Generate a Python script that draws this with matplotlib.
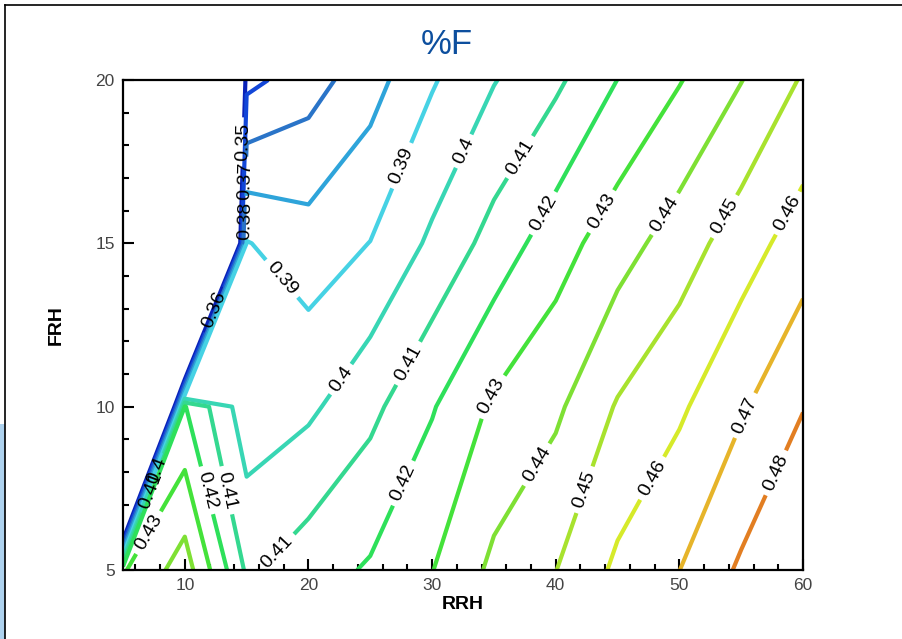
import numpy as np
import matplotlib
matplotlib.use("Agg")
import matplotlib.pyplot as plt
from matplotlib.lines import Line2D
from matplotlib.patches import Rectangle

# Grid of the response surface
rrh = [5, 10, 15, 20, 25, 30, 35, 40, 45, 50, 55, 60]
frh = [5, 10, 15, 20]

# %F values per FRH row (0 = infeasible corner, left blank)
pf_frh5 = [0.429, 0.445, 0.4084, 0.4155, 0.4212, 0.4297, 0.4422, 0.4498, 0.462, 0.4699, 0.4816, 0.488]
pf_frh10 = [0.0, 0.4205, 0.3937, 0.398, 0.4073, 0.4192, 0.4317, 0.4381, 0.4509, 0.4584, 0.4687, 0.4797]
pf_frh15 = [0.0, 0.0, 0.3905, 0.3845, 0.3902, 0.4019, 0.4138, 0.4256, 0.4356, 0.445, 0.4553, 0.465]
pf_frh20 = [0.0, 0.0, 0.357, 0.3656, 0.376, 0.389, 0.3995, 0.408, 0.4201, 0.4294, 0.4397, 0.451]

levels = [0.35, 0.36, 0.37, 0.38, 0.39, 0.40, 0.41, 0.42, 0.43, 0.44, 0.45, 0.46, 0.47, 0.48]
level_colors = ["#0a22b8", "#1246d8", "#2a74c8", "#2ea4da", "#46d2e4", "#38d6b4",
                "#34d890", "#2ee05a", "#44e23a", "#7ee034", "#a8e22e", "#d6ea2a",
                "#e6b42a", "#e27e22"]

# label anchor points (RRH, FRH) for each contour level
label_anchors = {
    0.35: [(14.75, 18.1)],
    0.36: [(12.4, 12.96)],
    0.37: [(14.85, 16.9)],
    0.38: [(14.9, 15.7)],
    0.39: [(27.4, 17.4), (18.1, 14.0)],
    0.40: [(32.4, 17.85), (22.4, 10.9), (7.3, 8.1)],
    0.41: [(37.5, 17.55), (28.2, 11.3), (17.9, 5.4), (13.5, 7.45), (6.9, 7.5)],
    0.42: [(39.1, 15.9), (27.4, 7.7), (11.9, 7.45)],
    0.43: [(43.6, 16.0), (34.4, 10.4), (6.8, 6.2)],
    0.44: [(48.4, 16.0), (37.7, 8.4)],
    0.45: [(53.3, 15.9), (42.0, 7.5)],
    0.46: [(58.9, 15.9), (47.6, 7.85)],
    0.47: [(54.9, 9.8)],
    0.48: [(57.3, 8.06)],
}

X, Y = np.meshgrid(rrh, frh)
Z = np.array([pf_frh5, pf_frh10, pf_frh15, pf_frh20])

sans = ["Liberation Sans", "DejaVu Sans"]

fig = plt.figure(figsize=(9.02, 6.39), dpi=100)
fig.patch.set_facecolor("white")
ax = fig.add_axes([123 / 902, 1 - 570 / 639, 680 / 902, 490 / 639])

# one contour set per level so every label can be pinned to its own line
for lv, col in zip(levels, level_colors):
    cs = ax.contour(X, Y, Z, levels=[lv], colors=[col], linewidths=3.0)
    pts = label_anchors.get(lv, [])
    if pts:
        txts = ax.clabel(cs, inline=True, inline_spacing=3, fontsize=14,
                         fmt=lambda v: f"{v:g}", manual=pts, colors="black")
        for t in txts:
            t.set_fontfamily(sans)

ax.set_xlim(5, 60)
ax.set_ylim(5, 20)
ax.set_xticks([10, 20, 30, 40, 50, 60])
ax.set_xticks(np.arange(6, 60, 2), minor=True)
ax.set_yticks([5, 10, 15, 20])
ax.set_yticks(np.arange(5, 21, 1), minor=True)
ax.tick_params(which="both", direction="in", top=False, right=False,
               width=1.5, colors="black", labelcolor="#444444", labelsize=12.5)
ax.tick_params(which="major", length=8, pad=6)
ax.tick_params(which="minor", length=4)
for lab in ax.get_xticklabels() + ax.get_yticklabels():
    lab.set_fontfamily(sans)
for sp in ax.spines.values():
    sp.set_linewidth(1.6)
    sp.set_color("black")

ax.set_xlabel("RRH", fontsize=14, fontweight="bold", family=sans, labelpad=2)
ax.set_ylabel("FRH", fontsize=14, fontweight="bold", family=sans, labelpad=22)

fig.text(447 / 902, 1 - 45 / 639, "%F", ha="center", va="center",
         fontsize=25, color="#0d4f9e",
         family=["Liberation Sans Narrow", "Liberation Sans", "DejaVu Sans"])

# slide frame and side accent
fig.add_artist(Line2D([5 / 902, 5 / 902], [0, 1 - 5 / 639], transform=fig.transFigure,
                      color="black", lw=1.2))
fig.add_artist(Line2D([5 / 902, 1], [1 - 5 / 639, 1 - 5 / 639], transform=fig.transFigure,
                      color="black", lw=1.2))
fig.add_artist(Rectangle((0, 0), 4.5 / 902, 215 / 639, transform=fig.transFigure,
                         facecolor="#aed2ee", edgecolor="none"))

fig.savefig("out.png", dpi=100)
